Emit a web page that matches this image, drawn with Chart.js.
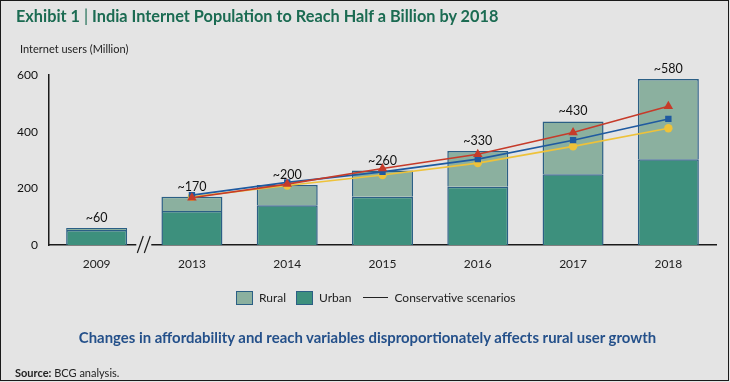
<!DOCTYPE html>
<html><head><meta charset="utf-8">
<script src="https://cdn.jsdelivr.net/npm/chart.js@4"></script>
<style>
html,body{margin:0;padding:0;}
body{width:730px;height:382px;background:#e4e4e4;position:relative;overflow:hidden;font-family:Lato,"Open Sans",sans-serif;}
#frame{position:absolute;left:0;top:0;width:727px;height:379px;border:1.5px solid #1a1a1a;pointer-events:none;}
#c{position:absolute;left:0;top:0;}
.t{position:absolute;white-space:nowrap;}
#title{left:16px;top:6px;font-size:16.3px;font-weight:700;color:#1b6b52;}
#title .bar{font-weight:400;color:#1b6b52;}
#ytitle{left:20px;top:42px;font-size:11px;color:#222;}
#legend{left:236px;top:290px;font-size:12px;color:#222;display:flex;align-items:center;}
.sw{display:inline-block;width:15px;height:12px;border:1px solid #2b5f85;margin-right:6px;}
.ln{display:inline-block;width:25px;height:0;border-top:1.2px solid #222;margin-right:6px;}
#sub{left:0;width:735px;text-align:center;top:328px;font-size:14.9px;font-weight:700;color:#24508a;}
#src{left:15px;top:366px;font-size:11px;color:#222;}
</style>
</head><body>
<canvas id="c" width="730" height="382"></canvas>
<div class="t" id="title">Exhibit 1 <span class="bar">|</span> India Internet Population to Reach Half a Billion by 2018</div>
<div class="t" id="ytitle">Internet users (Million)</div>
<div class="t" id="legend"><span class="sw" style="background:#8bb09f"></span><span style="margin-right:10px">Rural</span><span class="sw" style="background:#3d907d"></span><span style="margin-right:12px">Urban</span><span class="ln"></span><span>Conservative scenarios</span></div>
<div class="t" id="sub">Changes in affordability and reach variables disproportionately affects rural user growth</div>
<div class="t" id="src"><b>Source:</b> BCG analysis.</div>
<div id="frame"></div>
<script>
const categories = ['2009','2013','2014','2015','2016','2017','2018'];
const urban = [53,120,140,170,206,250,303];
const rural = [7,50,72,93,126,186,283];
const totalLabels = ['~60','~170','~200','~260','~330','~430','~580'];
const scenarioHigh = [null,167,215,270,320,397,490];
const scenarioMid = [null,176,221,258,303,370,445];
const scenarioLow = [null,170,210,247,289,348,412];
const yTicks = [0,200,400,600];

const BG = '#e4e4e4';

const extras = {
  id:'extras',
  afterDatasetsDraw(chart){
    const ctx = chart.ctx;
    const y = chart.scales.y;
    const meta = chart.getDatasetMeta(3);
    ctx.save();
    ctx.font = '12.5px Lato, sans-serif';
    ctx.fillStyle = '#111';
    ctx.textAlign = 'center';
    ctx.textBaseline = 'middle';
    meta.data.forEach((el,i)=>{
      const top = y.getPixelForValue(urban[i]+rural[i]);
      ctx.fillText(totalLabels[i], el.x, top-10);
    });
    ctx.restore();
  },
  afterDraw(chart){
    const ctx = chart.ctx;
    const x = chart.scales.x;
    const yb = chart.chartArea.bottom;
    const bx = (x.getPixelForValue(0)+x.getPixelForValue(1))/2;
    ctx.save();
    ctx.fillStyle = BG;
    ctx.fillRect(bx-8, yb-3, 15, 6);
    ctx.strokeStyle = '#1a1a1a';
    ctx.lineWidth = 1.2;
    [-4,3].forEach(d=>{
      ctx.beginPath();
      ctx.moveTo(bx+d-3, yb+8);
      ctx.lineTo(bx+d+3, yb-9);
      ctx.stroke();
    });
    ctx.restore();
  }
};

const lineDs = (label, data, color, style, r, stack) => ({
  type:'line', label, data, stack,
  borderColor:color, backgroundColor:color, borderWidth:1.6,
  pointStyle:style, pointRadius:r, pointHoverRadius:r, pointBorderWidth:0,
  tension:0, spanGaps:false
});

new Chart(document.getElementById('c'), {
  data:{
    labels:categories,
    datasets:[
      lineDs('High', scenarioHigh, '#c63b2a', 'triangle', 5.5, 'h'),
      lineDs('Mid', scenarioMid, '#1f5aa0', 'rect', 4.5, 'm'),
      lineDs('Conservative', scenarioLow, '#eec23a', 'circle', 4.2, 'l'),
      {type:'bar', label:'Urban', data:urban, stack:'bars', backgroundColor:'#3d907d', borderColor:'#2b5f85', borderWidth:1.5, barPercentage:1, categoryPercentage:0.64},
      {type:'bar', label:'Rural', data:rural, stack:'bars', backgroundColor:'#8bb09f', borderColor:'#2b5f85', borderWidth:1.5, barPercentage:1, categoryPercentage:0.64}
    ]
  },
  options:{
    responsive:false, animation:false, devicePixelRatio:1,
    layout:{padding:{left:0, top:75, right:14, bottom:0}},
    plugins:{legend:{display:false}, tooltip:{enabled:false}},
    scales:{
      x:{stacked:true,
        grid:{display:false, drawTicks:false},
        border:{display:true, color:'#1a1a1a', width:1.5},
        ticks:{font:{family:'Lato', size:12}, color:'#222', padding:12},
        afterFit(s){ s.height = 137; }
      },
      y:{stacked:true, min:0, max:600,
        afterBuildTicks(s){ s.ticks = yTicks.map(v=>({value:v})); },
        grid:{display:false, drawTicks:false},
        border:{display:true, color:'#1a1a1a', width:1.5},
        ticks:{font:{family:'Lato', size:12}, color:'#111', padding:11},
        afterFit(s){ s.width = 49; }
      }
    }
  },
  plugins:[extras]
});
</script>
</body></html>
